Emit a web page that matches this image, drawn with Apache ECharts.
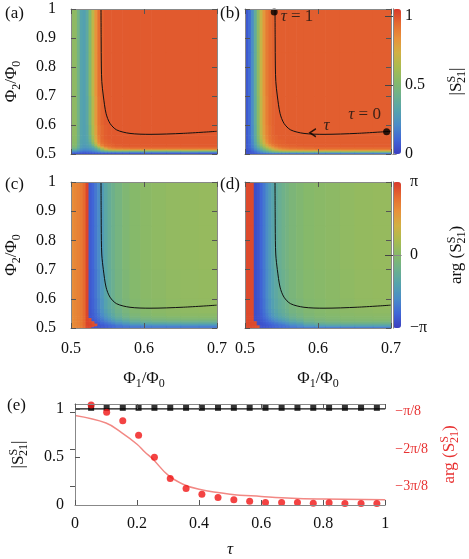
<!DOCTYPE html>
<html lang="en">
<head>
<meta charset="UTF-8">
<title>S21 maps</title>
<script src="https://cdn.jsdelivr.net/npm/echarts@6/dist/echarts.min.js"></script>
<style>
html,body{margin:0;padding:0;background:#fff}
#main{width:469px;height:559px}
</style>
</head>
<body>
<div id="main"></div>
<script>
// cell edges of the maps, flux in units of Phi0 (finer near the edges)
var phi1Edges = [0.500,0.504,0.508,0.512,0.516,0.520,0.524,0.528,0.532,0.536,0.540,0.545,0.550,0.555,0.560,0.570,0.580,0.595,0.610,0.630,0.650,0.675,0.700];
var phi2Edges = [0.500,0.503,0.506,0.509,0.512,0.515,0.519,0.523,0.528,0.534,0.540,0.550,0.565,0.600,0.700,0.850,1.000];

// |S21| measured, rows from top (phi2=1) to bottom (phi2=0.5)
var magMeas = [
  [0.55,0.55,0.45,0.32,0.30,0.36,0.52,0.68,0.83,0.93,0.96,0.98,0.98,0.98,0.98,0.98,0.98,0.98,0.98,0.98,0.98,0.98],
  [0.55,0.55,0.45,0.32,0.30,0.36,0.52,0.68,0.83,0.93,0.96,0.98,0.98,0.98,0.98,0.98,0.98,0.98,0.98,0.98,0.98,0.98],
  [0.55,0.55,0.45,0.32,0.30,0.35,0.50,0.66,0.81,0.92,0.96,0.98,0.98,0.98,0.98,0.98,0.98,0.98,0.98,0.98,0.98,0.98],
  [0.55,0.55,0.44,0.32,0.30,0.34,0.48,0.64,0.79,0.91,0.95,0.97,0.98,0.98,0.98,0.98,0.98,0.98,0.98,0.98,0.98,0.98],
  [0.54,0.54,0.44,0.32,0.30,0.33,0.45,0.61,0.77,0.89,0.95,0.97,0.98,0.98,0.98,0.98,0.98,0.98,0.98,0.98,0.98,0.98],
  [0.54,0.54,0.43,0.31,0.30,0.32,0.42,0.58,0.74,0.87,0.94,0.96,0.97,0.98,0.98,0.98,0.98,0.98,0.98,0.98,0.98,0.98],
  [0.53,0.53,0.42,0.31,0.29,0.31,0.38,0.53,0.69,0.84,0.92,0.95,0.965,0.97,0.98,0.98,0.98,0.98,0.98,0.98,0.98,0.98],
  [0.52,0.52,0.41,0.30,0.28,0.30,0.34,0.46,0.62,0.78,0.89,0.94,0.955,0.965,0.975,0.98,0.98,0.98,0.98,0.98,0.98,0.98],
  [0.50,0.50,0.40,0.29,0.27,0.28,0.31,0.38,0.52,0.68,0.82,0.90,0.93,0.95,0.96,0.97,0.97,0.97,0.97,0.97,0.97,0.97],
  [0.47,0.47,0.37,0.27,0.25,0.26,0.28,0.32,0.42,0.56,0.70,0.82,0.88,0.91,0.93,0.94,0.95,0.95,0.95,0.95,0.95,0.95],
  [0.42,0.42,0.33,0.24,0.22,0.23,0.25,0.28,0.35,0.46,0.60,0.73,0.81,0.84,0.86,0.87,0.88,0.88,0.88,0.88,0.88,0.88],
  [0.35,0.35,0.28,0.21,0.19,0.20,0.22,0.25,0.30,0.38,0.50,0.60,0.66,0.69,0.70,0.71,0.72,0.72,0.72,0.72,0.72,0.72],
  [0.28,0.28,0.23,0.18,0.16,0.17,0.18,0.21,0.25,0.31,0.40,0.47,0.52,0.54,0.55,0.55,0.55,0.55,0.55,0.55,0.55,0.55],
  [0.20,0.20,0.17,0.14,0.12,0.13,0.14,0.16,0.19,0.23,0.28,0.32,0.34,0.35,0.35,0.35,0.35,0.35,0.35,0.35,0.35,0.35],
  [0.12,0.12,0.10,0.08,0.07,0.08,0.09,0.10,0.11,0.13,0.14,0.15,0.15,0.15,0.15,0.15,0.15,0.15,0.15,0.15,0.15,0.15],
  [0.05,0.05,0.05,0.04,0.04,0.04,0.04,0.05,0.05,0.05,0.05,0.05,0.05,0.05,0.05,0.05,0.05,0.05,0.05,0.05,0.05,0.05]
];
// |S21| theory
var magTheo = [
  [0.07,0.12,0.22,0.38,0.55,0.70,0.82,0.90,0.94,0.96,0.97,0.97,0.97,0.97,0.97,0.97,0.97,0.97,0.97,0.97,0.97,0.97],
  [0.07,0.12,0.22,0.38,0.55,0.70,0.82,0.90,0.94,0.96,0.97,0.97,0.97,0.97,0.97,0.97,0.97,0.97,0.97,0.97,0.97,0.97],
  [0.07,0.12,0.22,0.37,0.54,0.69,0.81,0.89,0.94,0.96,0.97,0.97,0.97,0.97,0.97,0.97,0.97,0.97,0.97,0.97,0.97,0.97],
  [0.07,0.12,0.21,0.36,0.53,0.68,0.80,0.88,0.93,0.955,0.97,0.97,0.97,0.97,0.97,0.97,0.97,0.97,0.97,0.97,0.97,0.97],
  [0.07,0.12,0.21,0.35,0.51,0.66,0.78,0.87,0.92,0.95,0.96,0.97,0.97,0.97,0.97,0.97,0.97,0.97,0.97,0.97,0.97,0.97],
  [0.07,0.11,0.20,0.34,0.49,0.63,0.75,0.85,0.91,0.94,0.955,0.96,0.965,0.97,0.97,0.97,0.97,0.97,0.97,0.97,0.97,0.97],
  [0.07,0.11,0.19,0.32,0.46,0.60,0.72,0.82,0.89,0.93,0.95,0.96,0.965,0.97,0.97,0.97,0.97,0.97,0.97,0.97,0.97,0.97],
  [0.07,0.11,0.18,0.30,0.43,0.56,0.67,0.77,0.85,0.90,0.93,0.95,0.955,0.96,0.965,0.97,0.97,0.97,0.97,0.97,0.97,0.97],
  [0.07,0.10,0.17,0.27,0.39,0.50,0.61,0.71,0.79,0.85,0.90,0.93,0.945,0.95,0.955,0.96,0.965,0.97,0.97,0.97,0.97,0.97],
  [0.07,0.10,0.16,0.25,0.35,0.45,0.55,0.64,0.72,0.79,0.85,0.89,0.91,0.92,0.935,0.94,0.945,0.95,0.95,0.95,0.95,0.95],
  [0.07,0.09,0.14,0.22,0.31,0.40,0.49,0.57,0.65,0.72,0.78,0.83,0.86,0.875,0.89,0.90,0.91,0.92,0.92,0.92,0.92,0.92],
  [0.06,0.08,0.12,0.19,0.27,0.35,0.43,0.51,0.58,0.65,0.71,0.76,0.79,0.805,0.82,0.83,0.835,0.84,0.84,0.84,0.84,0.84],
  [0.06,0.07,0.11,0.16,0.23,0.30,0.37,0.44,0.50,0.56,0.61,0.65,0.68,0.69,0.70,0.71,0.715,0.72,0.72,0.72,0.72,0.72],
  [0.05,0.06,0.09,0.13,0.18,0.24,0.30,0.35,0.40,0.45,0.49,0.52,0.535,0.54,0.545,0.55,0.55,0.55,0.55,0.55,0.55,0.55],
  [0.05,0.06,0.07,0.10,0.14,0.18,0.22,0.26,0.29,0.32,0.34,0.35,0.35,0.35,0.35,0.35,0.35,0.35,0.35,0.35,0.35,0.35],
  [0.04,0.05,0.06,0.07,0.09,0.11,0.12,0.13,0.14,0.15,0.15,0.15,0.15,0.15,0.15,0.15,0.15,0.15,0.15,0.15,0.15,0.15]
];
// arg(S21) measured, units of pi
var argMeas = [
  [0.62,0.65,0.68,0.72,0.80,0.95,-0.85,-0.80,-0.70,-0.60,-0.48,-0.35,-0.26,-0.19,-0.12,-0.05,0.00,0.03,0.05,0.07,0.08,0.09],
  [0.62,0.65,0.68,0.72,0.80,0.95,-0.85,-0.80,-0.70,-0.60,-0.48,-0.35,-0.26,-0.19,-0.12,-0.05,0.00,0.03,0.05,0.07,0.08,0.09],
  [0.62,0.65,0.68,0.72,0.80,0.95,-0.86,-0.81,-0.72,-0.62,-0.50,-0.37,-0.28,-0.21,-0.13,-0.06,-0.01,0.02,0.04,0.06,0.07,0.08],
  [0.62,0.65,0.68,0.72,0.80,0.95,-0.87,-0.82,-0.74,-0.64,-0.53,-0.40,-0.31,-0.24,-0.15,-0.08,-0.02,0.01,0.03,0.05,0.06,0.07],
  [0.62,0.65,0.68,0.72,0.80,0.95,-0.88,-0.83,-0.76,-0.67,-0.56,-0.44,-0.35,-0.28,-0.18,-0.10,-0.04,-0.01,0.02,0.04,0.05,0.06],
  [0.62,0.65,0.68,0.72,0.80,0.95,-0.88,-0.84,-0.78,-0.70,-0.60,-0.49,-0.40,-0.32,-0.22,-0.14,-0.07,-0.03,0.00,0.02,0.03,0.03],
  [0.62,0.65,0.68,0.72,0.80,0.95,-0.89,-0.85,-0.80,-0.73,-0.64,-0.54,-0.45,-0.37,-0.27,-0.18,-0.11,-0.07,-0.04,-0.02,-0.01,0.00],
  [0.62,0.65,0.68,0.72,0.80,0.95,0.92,-0.86,-0.82,-0.76,-0.68,-0.59,-0.51,-0.43,-0.33,-0.24,-0.16,-0.11,-0.08,-0.06,-0.05,-0.05],
  [0.62,0.65,0.68,0.72,0.80,0.95,0.93,-0.87,-0.84,-0.79,-0.72,-0.64,-0.57,-0.50,-0.41,-0.32,-0.23,-0.17,-0.14,-0.12,-0.12,-0.12],
  [0.62,0.65,0.68,0.72,0.80,0.95,0.94,0.90,-0.86,-0.82,-0.76,-0.69,-0.63,-0.57,-0.48,-0.40,-0.30,-0.24,-0.21,-0.20,-0.20,-0.20],
  [0.62,0.65,0.68,0.72,0.80,0.95,0.94,0.90,-0.87,-0.84,-0.79,-0.73,-0.68,-0.62,-0.55,-0.47,-0.38,-0.33,-0.31,-0.30,-0.30,-0.30],
  [0.62,0.65,0.68,0.72,0.80,0.95,0.95,0.92,0.90,-0.86,-0.82,-0.77,-0.72,-0.68,-0.61,-0.54,-0.47,-0.43,-0.41,-0.40,-0.40,-0.40],
  [0.62,0.65,0.68,0.72,0.80,0.95,0.95,0.92,0.90,-0.88,-0.85,-0.81,-0.77,-0.73,-0.67,-0.61,-0.56,-0.52,-0.51,-0.50,-0.50,-0.50],
  [0.62,0.65,0.68,0.72,0.80,0.95,0.95,0.93,0.90,-0.89,-0.87,-0.84,-0.81,-0.78,-0.73,-0.68,-0.64,-0.62,-0.61,-0.60,-0.60,-0.60],
  [0.62,0.65,0.68,0.72,0.80,0.95,0.95,0.93,-0.90,-0.90,-0.88,-0.86,-0.83,-0.80,-0.77,-0.74,-0.72,-0.71,-0.70,-0.70,-0.70,-0.70],
  [0.62,0.65,0.68,0.72,0.80,0.95,0.95,-0.90,-0.90,-0.90,-0.88,-0.86,-0.83,-0.80,-0.77,-0.74,-0.72,-0.71,-0.70,-0.70,-0.70,-0.70]
];
// arg(S21) theory, units of pi
var argTheo = [
  [0.93,0.93,0.93,-0.92,-0.88,-0.80,-0.70,-0.58,-0.47,-0.38,-0.30,-0.23,-0.18,-0.13,-0.08,-0.04,0.00,0.02,0.04,0.06,0.08,0.09],
  [0.93,0.93,0.93,-0.92,-0.88,-0.80,-0.70,-0.58,-0.47,-0.38,-0.30,-0.23,-0.18,-0.13,-0.08,-0.04,0.00,0.02,0.04,0.06,0.08,0.09],
  [0.93,0.93,0.93,-0.92,-0.88,-0.81,-0.71,-0.60,-0.49,-0.40,-0.32,-0.25,-0.20,-0.15,-0.09,-0.05,-0.01,0.01,0.03,0.05,0.07,0.08],
  [0.93,0.93,0.93,-0.92,-0.89,-0.82,-0.73,-0.62,-0.52,-0.43,-0.35,-0.28,-0.23,-0.17,-0.11,-0.07,-0.02,0.00,0.02,0.04,0.06,0.07],
  [0.93,0.93,0.93,-0.92,-0.89,-0.83,-0.75,-0.65,-0.55,-0.46,-0.38,-0.31,-0.26,-0.20,-0.13,-0.09,-0.04,-0.01,0.01,0.03,0.04,0.05],
  [0.93,0.93,0.93,-0.92,-0.89,-0.84,-0.77,-0.68,-0.59,-0.50,-0.42,-0.35,-0.30,-0.24,-0.17,-0.12,-0.06,-0.03,-0.01,0.01,0.02,0.03],
  [0.93,0.93,0.93,-0.92,-0.90,-0.85,-0.79,-0.71,-0.63,-0.55,-0.47,-0.40,-0.35,-0.29,-0.21,-0.15,-0.09,-0.05,-0.03,-0.01,0.00,0.01],
  [0.93,0.93,0.93,-0.92,-0.90,-0.86,-0.81,-0.74,-0.67,-0.60,-0.53,-0.46,-0.41,-0.35,-0.26,-0.20,-0.12,-0.08,-0.05,-0.03,-0.02,-0.01],
  [0.93,0.93,0.93,-0.92,-0.90,-0.87,-0.83,-0.77,-0.71,-0.65,-0.59,-0.52,-0.47,-0.41,-0.32,-0.26,-0.16,-0.11,-0.08,-0.06,-0.05,-0.04],
  [0.93,0.93,0.93,0.92,-0.91,-0.88,-0.84,-0.80,-0.75,-0.70,-0.64,-0.58,-0.54,-0.48,-0.39,-0.33,-0.21,-0.15,-0.12,-0.10,-0.09,-0.09],
  [0.93,0.93,0.93,0.92,-0.91,-0.89,-0.86,-0.82,-0.78,-0.74,-0.69,-0.64,-0.60,-0.55,-0.46,-0.40,-0.27,-0.21,-0.18,-0.16,-0.16,-0.16],
  [0.93,0.93,0.93,0.92,-0.91,-0.89,-0.87,-0.84,-0.81,-0.77,-0.73,-0.68,-0.65,-0.60,-0.53,-0.47,-0.34,-0.28,-0.25,-0.24,-0.24,-0.24],
  [0.93,0.93,0.93,0.92,-0.91,-0.90,-0.88,-0.86,-0.83,-0.80,-0.76,-0.72,-0.70,-0.65,-0.59,-0.53,-0.42,-0.36,-0.33,-0.32,-0.32,-0.32],
  [0.93,0.93,0.93,0.92,0.90,-0.90,-0.89,-0.87,-0.85,-0.82,-0.79,-0.75,-0.74,-0.70,-0.65,-0.59,-0.50,-0.45,-0.43,-0.42,-0.42,-0.42],
  [0.93,0.93,0.93,0.92,0.90,-0.90,-0.89,-0.88,-0.86,-0.84,-0.81,-0.78,-0.77,-0.74,-0.70,-0.65,-0.60,-0.57,-0.56,-0.55,-0.55,-0.55],
  [0.93,0.93,0.93,0.92,0.90,-0.90,-0.90,-0.89,-0.87,-0.85,-0.83,-0.80,-0.79,-0.77,-0.74,-0.72,-0.71,-0.70,-0.70,-0.70,-0.70,-0.70]
];

// path of tau through the maps (black line)
var contourPhi1 = [0.5411,0.5413,0.5416,0.5422,0.5443,0.5480,0.5534,0.5626,0.5808,0.6082,0.6538,0.6995];
var contourPhi2 = [1.000,0.900,0.800,0.750,0.700,0.640,0.6057,0.583,0.571,0.5678,0.5712,0.5782];
var tauEndPhi1 = [0.694, 0.540];
var tauEndPhi2 = [0.577, 0.990];
var tauEndText = ['{i|τ} = 0', '{i|τ} = 1'];
var arrowPhi1 = [0.593];
var arrowPhi2 = [0.5735];

// panel (e)
var tauMeas = [0.052,0.102,0.154,0.205,0.256,0.307,0.358,0.409,0.461,0.512,0.563,0.614,0.666,0.717,0.768,0.819,0.870,0.922,0.973];
var magTau = [1.01,1.01,1.01,1.01,1.01,1.01,1.01,1.01,1.01,1.01,1.01,1.01,1.01,1.01,1.01,1.01,1.01,1.01,1.01];
var argTau = [-0.82,-1.01,-1.24,-1.63,-2.22,-2.79,-3.06,-3.21,-3.30,-3.36,-3.40,-3.43,-3.43,-3.43,-3.45,-3.44,-3.46,-3.46,-3.46]; // pi/8
var tauLine = [0,0.1,0.15,0.2,0.225,0.25,0.3,0.35,0.4,0.5,0.6,0.7,0.8,1.0];
var argLine = [-1.10,-1.30,-1.56,-1.87,-2.08,-2.26,-2.70,-2.95,-3.08,-3.21,-3.27,-3.32,-3.34,-3.36]; // pi/8
var magLineTau = [0, 1];
var magLineVal = [1, 1];

var cmap = ['#3b3fc1','#4066d6','#4a8cc8','#55a3ad','#6cb08e','#86b96a','#aabb4f','#d2b043','#e8913a','#e56a30','#d8392b'];
var serif = 'Liberation Serif';
var red = '#e83232';

function richSet(col) {
  return {
    t: {fontSize: 17, lineHeight: 22, fontFamily: serif, color: col},
    s: {fontSize: 12, lineHeight: 11, verticalAlign: 'bottom', fontFamily: serif, color: col},
    p: {fontSize: 12, lineHeight: 11, verticalAlign: 'top', fontFamily: serif, color: col, padding: [0, -7, 0, 0]},
    i: {fontSize: 17, fontStyle: 'italic', fontFamily: serif, color: col}
  };
}
var phiY = '{t|Φ}{s|2}{t|/Φ}{s|0}';
var phiX = '{t|Φ}{s|1}{t|/Φ}{s|0}';
var absS = '{t||S}{p|S}{s|21}{t||}';
var argS = '{t|arg (S}{p|S}{s|21}{t|)}';

function cells(rows) {
  var out = [];
  var n = phi2Edges.length - 1;
  for (var r = 0; r < rows.length; r++) {
    var j = n - 1 - r;
    for (var i = 0; i < rows[r].length; i++) {
      out.push([phi1Edges[i], phi1Edges[i + 1], phi2Edges[j], phi2Edges[j + 1], rows[r][i]]);
    }
  }
  return out;
}
function pairs(a, b) {
  return a.map(function (v, k) { return [v, b[k]]; });
}
function renderCell(params, api) {
  var p0 = api.coord([api.value(0), api.value(2)]);
  var p1 = api.coord([api.value(1), api.value(3)]);
  return {
    type: 'rect',
    shape: {x: p0[0], y: p1[1], width: p1[0] - p0[0] + 0.6, height: p0[1] - p1[1] + 0.6},
    style: {fill: api.visual('color')}
  };
}

var tickStyle = {inside: true, length: 5, lineStyle: {color: '#555'}};
var lineGrey = {show: true, lineStyle: {color: '#888'}};
var lab = {fontSize: 16, color: '#111', fontFamily: serif};

var grids = [
  {left: 71, top: 9, width: 146, height: 145},
  {left: 245, top: 9, width: 146, height: 145},
  {left: 71, top: 182, width: 146, height: 146},
  {left: 245, top: 182, width: 146, height: 146},
  {left: 393, top: 9, width: 8, height: 145},
  {left: 393, top: 182, width: 8, height: 146},
  {left: 71, top: 404, width: 319, height: 103}
];
var xAxes = [], yAxes = [];
function mapAxes(g, showX, showY) {
  xAxes.push({gridIndex: g, type: 'value', min: 0.5, max: 0.7, interval: 0.1, position: 'bottom', z: 5,
    axisLine: lineGrey, axisTick: tickStyle, splitLine: {show: false},
    axisLabel: Object.assign({show: showX, margin: 13}, lab),
    name: showX ? phiX : '', nameLocation: 'middle', nameGap: 40, nameTextStyle: {rich: richSet('#111')}});
  xAxes.push({gridIndex: g, type: 'value', min: 0.5, max: 0.7, interval: 0.1, position: 'top', z: 5,
    axisLine: lineGrey, axisTick: tickStyle, splitLine: {show: false}, axisLabel: {show: false}});
  yAxes.push({gridIndex: g, type: 'value', min: 0.5, max: 1, interval: 0.1, position: 'left', z: 5,
    axisLine: lineGrey, axisTick: tickStyle, splitLine: {show: false},
    axisLabel: Object.assign({show: showY, margin: 15}, lab),
    name: showY ? phiY : '', nameLocation: 'middle', nameGap: 48, nameRotate: 90, nameTextStyle: {rich: richSet('#111')}});
  yAxes.push({gridIndex: g, type: 'value', min: 0.5, max: 1, interval: 0.1, position: 'right', z: 5,
    axisLine: lineGrey, axisTick: tickStyle, splitLine: {show: false}, axisLabel: {show: false}});
}
mapAxes(0, false, true);
mapAxes(1, false, false);
mapAxes(2, true, true);
mapAxes(3, true, false);

function barAxes(g, mn, mx, labVals, tickVals, fmt, name, gap) {
  xAxes.push({gridIndex: g, type: 'value', min: 0, max: 1, position: 'bottom', z: 5, axisLine: lineGrey,
    axisTick: {show: false}, axisLabel: {show: false}, splitLine: {show: false}});
  xAxes.push({gridIndex: g, type: 'value', min: 0, max: 1, position: 'top', z: 5, axisLine: lineGrey,
    axisTick: {show: false}, axisLabel: {show: false}, splitLine: {show: false}});
  yAxes.push({gridIndex: g, type: 'value', min: mn, max: mx, position: 'right', z: 5, axisLine: lineGrey,
    axisTick: {inside: true, length: 8, customValues: tickVals, lineStyle: {color: '#444'}},
    axisLabel: Object.assign({margin: 9, customValues: labVals, formatter: fmt}, lab),
    splitLine: {show: false},
    name: name, nameLocation: 'middle', nameGap: gap, nameRotate: 90, nameTextStyle: {rich: richSet('#111')}});
  yAxes.push({gridIndex: g, type: 'value', min: mn, max: mx, position: 'left', z: 5, axisLine: lineGrey,
    axisTick: {show: false}, axisLabel: {show: false}, splitLine: {show: false}});
}
barAxes(4, 0, 1.05, [0, 0.5, 1], [0.5, 1], function (v) { return String(v); }, absS, 50);
barAxes(5, -1, 1, [-1, 0, 1], [0], function (v) { return v > 0 ? 'π' : (v < 0 ? '−π' : '0'); }, argS, 45);

// panel (e): axes 12 and 13
xAxes.push({gridIndex: 6, type: 'value', min: 0, max: 1, interval: 0.2, position: 'bottom', z: 5,
  axisLine: lineGrey, axisTick: tickStyle, splitLine: {show: false},
  axisLabel: Object.assign({margin: 11}, lab),
  name: '{i|τ}', nameLocation: 'middle', nameGap: 36, nameTextStyle: {rich: richSet('#111')}});
xAxes.push({gridIndex: 6, type: 'value', min: 0, max: 1, interval: 0.2, position: 'top', z: 5,
  axisLine: lineGrey, axisTick: tickStyle, splitLine: {show: false}, axisLabel: {show: false}});
yAxes.push({gridIndex: 6, type: 'value', min: 0, max: 1.05, position: 'left', z: 5,
  axisLine: lineGrey, axisTick: {inside: true, length: 5, customValues: [0.5, 1], lineStyle: {color: '#555'}},
  splitLine: {show: false},
  axisLabel: Object.assign({margin: 11, customValues: [0, 0.5, 1]}, lab),
  name: absS, nameLocation: 'middle', nameGap: 45, nameRotate: 90, nameTextStyle: {rich: richSet('#111')}});
yAxes.push({gridIndex: 6, type: 'value', min: -3.5, max: -0.79, position: 'right', z: 5,
  axisLine: lineGrey, axisTick: {inside: true, length: 5, customValues: [-3, -2, -1], lineStyle: {color: '#555'}},
  splitLine: {show: false},
  axisLabel: {margin: 10, customValues: [-3, -2, -1], fontSize: 14, color: red, fontFamily: serif,
    formatter: function (v) { var k = Math.round(-v); return '−' + (k === 1 ? '' : k) + 'π/8'; }},
  name: argS, nameLocation: 'middle', nameGap: 52, nameRotate: 90, nameTextStyle: {rich: richSet(red)}});

function mapSeries(g, rows) {
  return {type: 'custom', xAxisIndex: 2 * g, yAxisIndex: 2 * g, renderItem: renderCell, clip: true,
    encode: {x: [0, 1], y: [2, 3]}, data: cells(rows), silent: true};
}
function contour(g) {
  return {type: 'line', xAxisIndex: 2 * g, yAxisIndex: 2 * g, data: pairs(contourPhi1, contourPhi2),
    smooth: 0.3, showSymbol: false, lineStyle: {color: '#111', width: 1}, silent: true, z: 3};
}

var option = {
  animation: false,
  textStyle: {fontFamily: serif},
  grid: grids,
  xAxis: xAxes,
  yAxis: yAxes,
  visualMap: [
    {type: 'continuous', seriesIndex: [0, 2], dimension: 4, min: 0, max: 1.05, inRange: {color: cmap},
      left: 393, top: 9, itemWidth: 8, itemHeight: 145, padding: 0, calculable: false, hoverLink: false, text: null},
    {type: 'continuous', seriesIndex: [6, 8], dimension: 4, min: -1, max: 1, inRange: {color: cmap},
      left: 393, top: 182, itemWidth: 8, itemHeight: 146, padding: 0, calculable: false, hoverLink: false, text: null}
  ],
  graphic: [
    {type: 'text', left: 5, top: 5, style: {text: '(a)', font: '17px "Liberation Serif"', fill: '#111'}},
    {type: 'text', left: 220, top: 5, style: {text: '(b)', font: '17px "Liberation Serif"', fill: '#111'}},
    {type: 'text', left: 5, top: 176, style: {text: '(c)', font: '17px "Liberation Serif"', fill: '#111'}},
    {type: 'text', left: 220, top: 176, style: {text: '(d)', font: '17px "Liberation Serif"', fill: '#111'}},
    {type: 'text', left: 7, top: 397, style: {text: '(e)', font: '17px "Liberation Serif"', fill: '#111'}}
  ],
  series: [
    mapSeries(0, magMeas),
    contour(0),
    mapSeries(1, magTheo),
    contour(1),
    {type: 'scatter', xAxisIndex: 2, yAxisIndex: 2, symbolSize: 7, itemStyle: {color: '#000'}, z: 4,
      data: [
        {value: [tauEndPhi1[0], tauEndPhi2[0]], label: {show: true, position: 'top', offset: [-22, 0], formatter: tauEndText[0]}},
        {value: [tauEndPhi1[1], tauEndPhi2[1]], label: {show: true, position: 'right', offset: [-2, 5], formatter: tauEndText[1]}}
      ],
      label: {fontSize: 17, color: '#111', fontFamily: serif, rich: richSet('#111')}},
    {type: 'scatter', xAxisIndex: 2, yAxisIndex: 2, data: pairs(arrowPhi1, arrowPhi2), z: 4,
      symbol: 'path://M10 0 L0 5 L10 10', symbolSize: [6, 8],
      itemStyle: {color: 'transparent', borderColor: '#000', borderWidth: 1.5},
      label: {show: true, position: 'right', offset: [2, -7], formatter: '{i|τ}', rich: richSet('#111')}},
    mapSeries(2, argMeas),
    contour(2),
    mapSeries(3, argTheo),
    contour(3),
    {type: 'line', xAxisIndex: 12, yAxisIndex: 12, data: pairs(magLineTau, magLineVal), showSymbol: false,
      lineStyle: {color: '#111', width: 1.2}, z: 3},
    {type: 'scatter', xAxisIndex: 12, yAxisIndex: 12, data: pairs(tauMeas, magTau), symbol: 'rect', symbolSize: 6,
      itemStyle: {color: '#000'}, z: 4},
    {type: 'line', xAxisIndex: 12, yAxisIndex: 13, data: pairs(tauLine, argLine), smooth: 0.4, showSymbol: false,
      lineStyle: {color: '#f28884', width: 1.5}, z: 3},
    {type: 'scatter', xAxisIndex: 12, yAxisIndex: 13, data: pairs(tauMeas, argTau), symbolSize: 7,
      itemStyle: {color: '#f01414'}, z: 4}
  ]
};

var chart = echarts.init(document.getElementById('main'));
chart.setOption(option);
</script>
</body>
</html>
